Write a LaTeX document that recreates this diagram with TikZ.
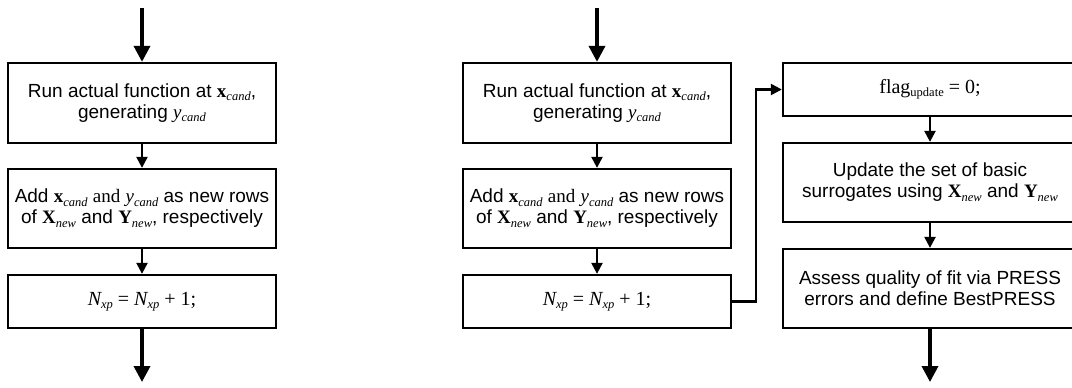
\documentclass[tikz,border=0pt]{standalone}
\usepackage{fontspec}
\setmainfont{Liberation Sans}
\newfontfamily\tms{Liberation Serif}
\usetikzlibrary{arrows.meta}

% bold serif vector with italic subscript, italic scalar with italic subscript
\newcommand\isub[1]{\raisebox{-0.35ex}{\fontsize{12.5}{12.5}\selectfont\tms\itshape #1}}
\newcommand\usub[1]{\raisebox{-0.35ex}{\fontsize{12.5}{12.5}\selectfont\tms #1}}
\newcommand\bvec[2]{{\tms\bfseries #1}\isub{#2}}
\newcommand\ivar[2]{{\tms\itshape #1}\isub{#2}}

\tikzset{
  box/.style={draw, line width=2.3pt, rectangle, align=center, inner sep=0pt,
    font=\fontsize{19}{21}\selectfont},
  formula/.style={font=\tms\fontsize{20}{21}\selectfont},
  flow/.style={line width=2.3pt, -{Triangle[width=11pt,length=11pt]}},
  bigflow/.style={line width=3.6pt, -{Triangle[width=16pt,length=16pt]}},
}

\begin{document}
\begin{tikzpicture}[x=1pt,y=-1pt]
\useasboundingbox (0,0) rectangle (1072,388);
\clip (0,0) rectangle (1072,388);

% left column
\node[box, minimum width=268pt, minimum height=80pt] (l1) at (142,103)
  {Run actual function at \bvec{x}{cand},\\ generating \ivar{y}{cand}};
\node[box, minimum width=268pt, minimum height=79pt] (l2) at (142,208.5)
  {Add \bvec{x}{cand} {\tms and} \ivar{y}{cand} as new rows\\ of \bvec{X}{new} and \bvec{Y}{new}, respectively};
\node[box, formula, minimum width=268pt, minimum height=53pt] (l3) at (142,301.5)
  {\ivar{N}{xp} = \ivar{N}{xp} + 1;};
\coordinate (lin) at (142,8);
\coordinate (lout) at (142,382);

% middle column
\node[box, minimum width=268pt, minimum height=80pt] (m1) at (597,103)
  {Run actual function at \bvec{x}{cand},\\ generating \ivar{y}{cand}};
\node[box, minimum width=268pt, minimum height=79pt] (m2) at (597,208.5)
  {Add \bvec{x}{cand} {\tms and} \ivar{y}{cand} as new rows\\ of \bvec{X}{new} and \bvec{Y}{new}, respectively};
\node[box, formula, minimum width=268pt, minimum height=53pt] (m3) at (597,301.5)
  {\ivar{N}{xp} = \ivar{N}{xp} + 1;};
\coordinate (min) at (597,8);

% right column
\node[box, formula, minimum width=294pt, minimum height=53pt] (r1) at (930,89.5)
  {flag\usub{update} = 0;};
\node[box, minimum width=294pt, minimum height=79pt] (r2) at (930,182.5)
  {Update the set of basic\\ surrogates using \bvec{X}{new} and \bvec{Y}{new}};
\node[box, minimum width=294pt, minimum height=79pt] (r3) at (930,288.5)
  {Assess quality of fit via PRESS\\ errors and define BestPRESS};
\coordinate (rout) at (930,382);
\coordinate (bend) at (756,0);

% connectors
\draw[bigflow] (lin) -- (l1);
\draw[flow] (l1) -- (l2);
\draw[flow] (l2) -- (l3);
\draw[bigflow] (l3) -- (lout);

\draw[bigflow] (min) -- (m1);
\draw[flow] (m1) -- (m2);
\draw[flow] (m2) -- (m3);
\draw[flow] (m3.east) -| (bend |- r1.west) -- (r1.west);

\draw[flow] (r1) -- (r2);
\draw[flow] (r2) -- (r3);
\draw[bigflow] (r3) -- (rout);
\end{tikzpicture}
\end{document}
